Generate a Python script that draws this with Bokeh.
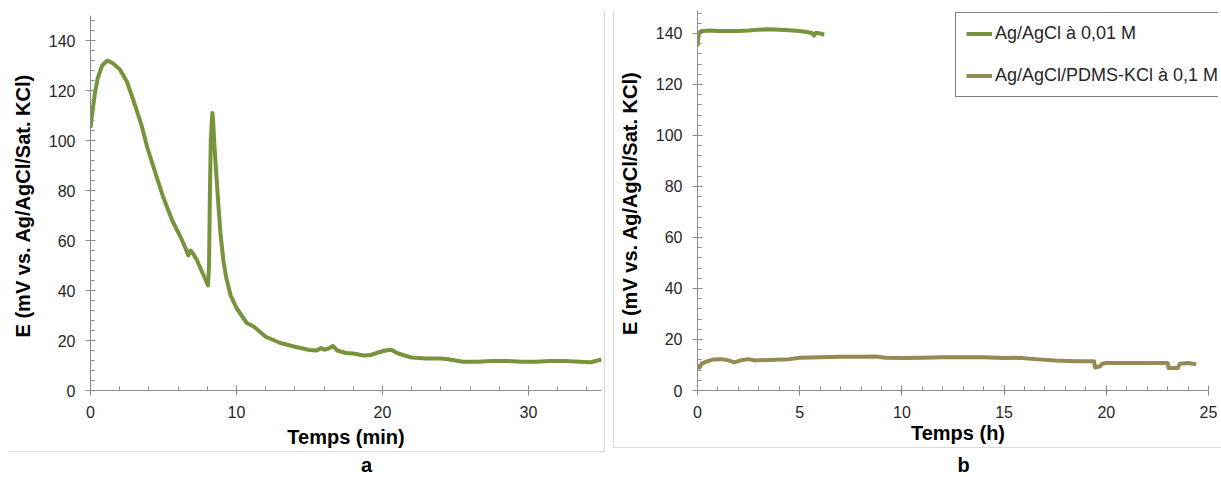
from bokeh.plotting import figure
from bokeh.models import Range1d, SingleIntervalTicker, Legend, LegendItem
from bokeh.core.properties import value
from bokeh.layouts import row, column
from bokeh.embed import file_html
from bokeh.resources import INLINE

# ---------------- data ----------------
# Panel a : potential vs time (min)
time_min = [0, 0.1, 0.3, 0.5, 0.8, 1.15, 1.5, 2.0, 2.5, 3.0, 3.5, 3.9, 4.5, 5.0, 5.6, 6.2,
            6.5, 6.7, 6.85, 7.0, 7.3, 7.6, 7.9, 8.05, 8.12, 8.18, 8.24, 8.3, 8.35, 8.4,
            8.45, 8.5, 8.6, 8.75, 8.9, 9.1, 9.3, 9.6, 10.0, 10.7, 11.2, 11.6, 12.0, 13.0,
            14.0, 15.0, 15.5, 15.8, 16.0, 16.3, 16.6, 16.9, 17.5, 18.0, 18.7, 19.2, 19.7,
            20.2, 20.6, 21.0, 21.5, 22.0, 23.0, 24.0, 24.5, 25.0, 25.5, 26.5, 27.5, 28.5,
            29.5, 30.5, 31.5, 32.5, 33.5, 34.3, 34.7, 35.0]
e_min = [105, 110, 119, 125, 130, 132, 131, 128.5, 123.5, 115, 106, 97, 86, 77, 68, 61,
         57, 54, 56, 55, 52, 48, 44, 42, 50, 80, 100, 107, 111, 108,
         102, 97, 88, 75, 63, 52, 45, 38, 33, 27, 25.5, 23.5, 21.5, 19,
         17.5, 16.2, 16, 17, 16.3, 16.8, 17.8, 16, 15, 14.8, 14, 14.2, 15.2,
         16, 16.3, 15, 14, 13.2, 12.8, 12.8, 12.5, 12, 11.5, 11.5, 11.8, 11.8,
         11.5, 11.5, 11.8, 11.8, 11.5, 11.3, 12, 12.3]

# Panel b : potential vs time (h)
series_names = ["Ag/AgCl à 0,01 M", "Ag/AgCl/PDMS-KCl à 0,1 M"]
time_h_1 = [0, 0.03, 0.08, 0.15, 0.3, 0.6, 1.0, 1.5, 2.0, 2.5, 3.0, 3.5, 4.0, 4.5,
            5.0, 5.4, 5.6, 5.7, 5.8, 6.0, 6.2]
e_h_1 = [135, 138, 140, 140.8, 141, 141.2, 141, 141, 141, 141.2, 141.5, 141.6, 141.5,
         141.3, 141, 140.5, 140.2, 139.2, 140.3, 140, 139.5]
time_h_2 = [0, 0.1, 0.2, 0.5, 0.8, 1.2, 1.5, 1.8, 2.2, 2.5, 2.8, 3.5, 4.5, 5.0, 6.0,
            7.0, 8.0, 8.7, 9.2, 10.0, 11.0, 12.0, 13.0, 14.0, 15.0, 15.7, 16.5, 17.5,
            18.5, 19.4, 19.45, 19.7, 19.8, 20.0, 21.0, 22.0, 23.0, 23.05, 23.5, 23.6,
            24.0, 24.4]
e_h_2 = [10, 9, 10.5, 11.5, 12.2, 12.3, 11.8, 11.0, 12.0, 12.3, 11.8, 12.0, 12.3, 12.8,
         13.0, 13.2, 13.2, 13.3, 12.8, 12.7, 12.8, 13.0, 13.0, 13.0, 12.7, 12.8, 12.3,
         11.8, 11.5, 11.5, 9.0, 9.5, 10.5, 10.8, 10.8, 10.8, 10.8, 8.8, 8.8, 10.5,
         10.8, 10.3]

y_label = "E  (mV vs. Ag/AgCl/Sat. KCl)"
x_label_a = "Temps (min)"
x_label_b = "Temps (h)"
panel_letters = ["a", "b"]

GREEN = "#77933C"
KHAKI = "#948A54"
AXIS_GRAY = "#8C8C8C"
BORDER_GRAY = "#D9D9D9"
FONT = "Liberation Sans"

MAIN_H = 452
STRIP_H = 25


def style(p, x_interval):
    p.xgrid.visible = False
    p.ygrid.visible = False
    p.outline_line_color = None
    p.border_fill_color = None
    p.background_fill_color = None
    p.xaxis.ticker = SingleIntervalTicker(interval=x_interval, num_minor_ticks=5)
    p.yaxis.ticker = SingleIntervalTicker(interval=20, num_minor_ticks=5)
    for ax in (p.xaxis[0], p.yaxis[0]):
        ax.axis_line_color = AXIS_GRAY
        ax.major_tick_line_color = AXIS_GRAY
        ax.minor_tick_line_color = AXIS_GRAY
        ax.major_tick_in = 5
        ax.major_tick_out = 5
        ax.minor_tick_in = 4
        ax.minor_tick_out = 0
        ax.major_label_text_font = FONT
        ax.major_label_text_font_size = "16px"
        ax.major_label_text_color = "#262626"
        ax.axis_label_text_font = FONT
        ax.axis_label_text_font_size = "20px"
        ax.axis_label_text_font_style = "bold"
        ax.axis_label_text_color = "#000000"
    p.yaxis.major_label_standoff = 10
    p.yaxis.axis_label_standoff = 12
    p.xaxis.major_label_standoff = 10


def border_css(vx, vy0, vy1, hx0, hx1, hy):
    g = "linear-gradient(%s,%s)" % (BORDER_GRAY, BORDER_GRAY)
    return {
        "background-image": g + ", " + g,
        "background-size": "1px %dpx, %dpx 1px" % (vy1 - vy0, hx1 - hx0),
        "background-position": "%dpx %dpx, %dpx %dpx" % (vx, vy0, hx0, hy),
        "background-repeat": "no-repeat",
    }


def letter_fig(width, frame_left, frame_right, text, x_pos):
    # the column aligns this strip's frame with the chart frame above it,
    # so its x range is expressed in the same pixel positions as that frame
    f = figure(width=width, height=STRIP_H, output_backend="svg", toolbar_location=None,
               x_range=Range1d(frame_left, frame_right), y_range=Range1d(0, STRIP_H),
               x_axis_type=None, y_axis_type=None,
               min_border_left=0, min_border_right=0, min_border_top=0,
               min_border_bottom=0)
    f.xgrid.visible = False
    f.ygrid.visible = False
    f.outline_line_color = None
    f.border_fill_color = None
    f.background_fill_color = None
    f.text(x=[x_pos], y=[STRIP_H / 2], text=[text], text_align="center",
           text_baseline="middle", text_font=value(FONT), text_font_size="20px",
           text_font_style="bold", text_color="#000000")
    return f


# ---------------- panel a ----------------
pa = figure(width=608, height=MAIN_H, output_backend="svg", toolbar_location=None,
            x_range=Range1d(0, 35), y_range=Range1d(0, 150),
            min_border_left=90, min_border_right=7, min_border_top=15,
            min_border_bottom=MAIN_H - 390)
style(pa, 10)
pa.xaxis.axis_label = x_label_a
pa.yaxis.axis_label = y_label
pa.xaxis.axis_label_standoff = 5
pa.line(time_min, e_min, line_color=GREEN, line_width=4, line_join="round")
pa.styles = border_css(604, 10, MAIN_H, 8, 605, MAIN_H - 1)
la = letter_fig(608, 90, 601, panel_letters[0], 366)

# ---------------- panel b ----------------
pb = figure(width=613, height=MAIN_H, output_backend="svg", toolbar_location=None,
            x_range=Range1d(0, 25.49), y_range=Range1d(0, 149),
            min_border_left=89, min_border_right=3, min_border_top=10,
            min_border_bottom=MAIN_H - 390)
style(pb, 5)
pb.xaxis.bounds = (0, 25)
pb.xaxis.axis_label = x_label_b
pb.yaxis.axis_label = y_label
pb.xaxis.axis_label_standoff = 1
r1 = pb.line(time_h_1, e_h_1, line_color=GREEN, line_width=4, line_join="round")
r2 = pb.line(time_h_2, e_h_2, line_color=KHAKI, line_width=4, line_join="round")
pb.styles = border_css(5, 10, 448, 5, 613, 447)
lb = letter_fig(613, 89, 610, panel_letters[1], 355)

legend = Legend(items=[LegendItem(label=series_names[0], renderers=[r1]),
                       LegendItem(label=series_names[1], renderers=[r2])],
                location=(258, 293), orientation="vertical",
                glyph_width=26, glyph_height=21, label_height=21,
                label_standoff=3, spacing=21, padding=10, margin=0,
                label_text_font=FONT, label_text_font_size="18px",
                label_text_color="#262626",
                border_line_color="#000000", border_line_width=1.5,
                background_fill_color="#ffffff", background_fill_alpha=1.0)
pb.add_layout(legend)

layout = row(column(pa, la), column(pb, lb))
open("out.html", "w").write(file_html(layout, INLINE))
